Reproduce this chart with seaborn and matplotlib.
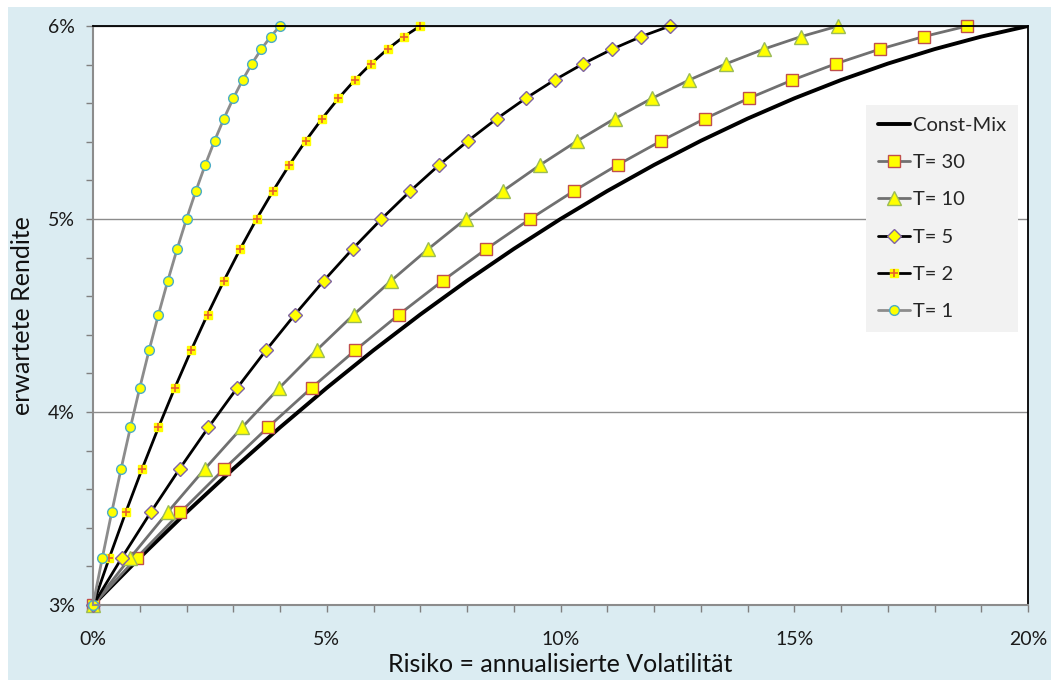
import matplotlib
matplotlib.use("Agg")
import matplotlib.pyplot as plt
from matplotlib.patches import Rectangle
from matplotlib.ticker import MultipleLocator, FuncFormatter
import seaborn as sns

# expected return (%) at each of the 21 mix points, shared by all curves
rendite = [3.0, 3.245, 3.48, 3.705, 3.92, 4.125, 4.32, 4.505, 4.68, 4.845, 5.0,
           5.145, 5.28, 5.405, 5.52, 5.625, 5.72, 5.805, 5.88, 5.945, 6.0]

# volatility (%) per curve
vol_constmix = [0, 1, 2, 3, 4, 5, 6, 7, 8, 9, 10, 11, 12, 13, 14, 15, 16, 17, 18, 19, 20]
vol_t30 = [0, 0.935, 1.87, 2.805, 3.74, 4.675, 5.61, 6.545, 7.48, 8.415, 9.35,
           10.285, 11.22, 12.155, 13.09, 14.025, 14.96, 15.895, 16.83, 17.765, 18.7]
vol_t10 = [0, 0.797, 1.594, 2.391, 3.188, 3.985, 4.782, 5.579, 6.376, 7.173, 7.97,
           8.767, 9.564, 10.361, 11.158, 11.955, 12.752, 13.549, 14.346, 15.143, 15.94]
vol_t5 = [0, 0.617, 1.234, 1.851, 2.468, 3.085, 3.702, 4.319, 4.936, 5.553, 6.17,
          6.787, 7.404, 8.021, 8.638, 9.255, 9.872, 10.489, 11.106, 11.723, 12.34]
vol_t2 = [0, 0.35, 0.7, 1.05, 1.4, 1.75, 2.1, 2.45, 2.8, 3.15, 3.5,
          3.85, 4.2, 4.55, 4.9, 5.25, 5.6, 5.95, 6.3, 6.65, 7.0]
vol_t1 = [0, 0.2, 0.4, 0.6, 0.8, 1.0, 1.2, 1.4, 1.6, 1.8, 2.0,
          2.2, 2.4, 2.6, 2.8, 3.0, 3.2, 3.4, 3.6, 3.8, 4.0]

sns.set_style("white")
plt.rcParams['font.family'] = ['Lato', 'DejaVu Sans']

fig = plt.figure(figsize=(10.51, 6.8), dpi=100, facecolor="white")
fig.patches.append(Rectangle((8 / 1051, 0), 1 - 8 / 1051, 1 - 7 / 680,
                             transform=fig.transFigure, facecolor="#dbecf2",
                             edgecolor="none", zorder=-10))
ax = fig.add_axes([93 / 1051, 1 - 605 / 680, 935 / 1051, 579 / 680])
ax.set_facecolor("white")

yellow = "#ffff00"
sns.lineplot(x=vol_constmix, y=rendite, ax=ax, color="black", linewidth=2.8,
             sort=False, estimator=None, label="Const-Mix")
sns.lineplot(x=vol_t30, y=rendite, ax=ax, color="#707070", linewidth=2,
             marker="s", markersize=9, markerfacecolor=yellow,
             markeredgecolor="#c0504d", markeredgewidth=1,
             sort=False, estimator=None, label="T= 30", clip_on=False)
sns.lineplot(x=vol_t10, y=rendite, ax=ax, color="#707070", linewidth=2,
             marker="^", markersize=10, markerfacecolor=yellow,
             markeredgecolor="#9bbb59", markeredgewidth=1,
             sort=False, estimator=None, label="T= 10", clip_on=False)
sns.lineplot(x=vol_t5, y=rendite, ax=ax, color="black", linewidth=2,
             marker="D", markersize=7, markerfacecolor=yellow,
             markeredgecolor="#8064a2", markeredgewidth=1,
             sort=False, estimator=None, label="T= 5", clip_on=False)
line2, = ax.plot(vol_t2, rendite, color="black", linewidth=2,
                 marker="s", markersize=6, markerfacecolor=yellow,
                 markeredgecolor=yellow, clip_on=False)
plus2, = ax.plot(vol_t2, rendite, linestyle="none", marker="+", markersize=6,
                 markeredgecolor="#e8602c", markeredgewidth=1.2, clip_on=False)
sns.lineplot(x=vol_t1, y=rendite, ax=ax, color="#8c8c8c", linewidth=2,
             marker="o", markersize=7, markerfacecolor=yellow,
             markeredgecolor="#4bacc6", markeredgewidth=1,
             sort=False, estimator=None, label="T= 1", clip_on=False)

ax.set_xlim(0, 20)
ax.set_ylim(3, 6)
ax.xaxis.set_major_locator(MultipleLocator(5))
ax.xaxis.set_minor_locator(MultipleLocator(1))
ax.yaxis.set_major_locator(MultipleLocator(1))
ax.yaxis.set_minor_locator(MultipleLocator(0.2))
pct = FuncFormatter(lambda v, p: f"{v:.0f}%")
ax.xaxis.set_major_formatter(pct)
ax.yaxis.set_major_formatter(pct)
ax.tick_params(axis="both", which="both", direction="out", color="#808080",
               length=5, width=1, labelsize=14, labelcolor="#1a1a1a")
ax.tick_params(axis="x", which="both", bottom=True, pad=14)
ax.tick_params(axis="y", which="both", left=True, pad=8)
ax.grid(axis="y", which="major", color="#8c8c8c", linewidth=1)

for side in ["left", "bottom"]:
    ax.spines[side].set_color("#8c8c8c")
    ax.spines[side].set_linewidth(1.5)
for side in ["top", "right"]:
    ax.spines[side].set_color("black")
    ax.spines[side].set_linewidth(1.3)

ax.set_xlabel("Risiko = annualisierte Volatilität", fontsize=18, labelpad=3,
              color="#111111")
ax.set_ylabel("erwartete Rendite", fontsize=18, labelpad=10, color="#111111")

handles, labels = ax.get_legend_handles_labels()
handles = handles[:4] + [(line2, plus2)] + handles[4:]
labels = labels[:4] + ["T= 2"] + labels[4:]
leg = ax.legend(handles, labels, loc="upper left", bbox_to_anchor=(0.827, 0.864),
                borderaxespad=0, fontsize=14.5, frameon=True, fancybox=False,
                facecolor="#f2f2f2", edgecolor="none", framealpha=1,
                handlelength=1.55, handletextpad=0.15, labelspacing=1.0,
                borderpad=0.6)

fig.savefig("out.png", dpi=100, facecolor=fig.get_facecolor())
